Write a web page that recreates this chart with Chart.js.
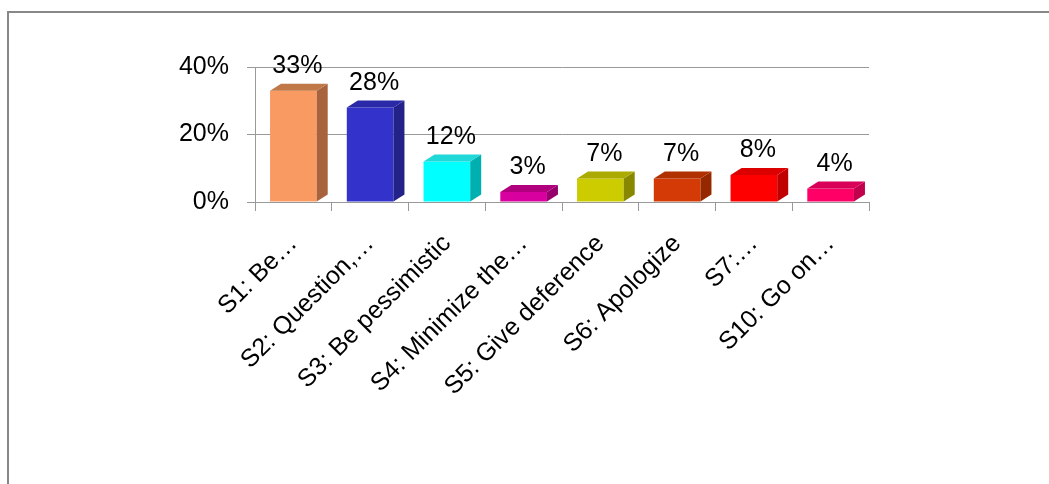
<!DOCTYPE html>
<html lang="en">
<head>
    <meta charset="UTF-8">
    <title>Strategies</title>
    <style>
        html, body { margin: 0; padding: 0; background: #fff; }
        body { width: 1049px; height: 484px; position: relative; overflow: hidden; font-family: "Liberation Sans", Arial, sans-serif; }
        .frame { position: absolute; left: 7px; top: 11px; width: 1040px; height: 480px; border-top: 2px solid #888; border-left: 2px solid #888; }
        .chart-box { position: absolute; left: 0; top: 0; width: 1049px; height: 484px; }
    </style>
</head>
<body>
    <div class="frame"></div>
    <div class="chart-box">
        <canvas id="stratChart" width="1049" height="484"></canvas>
    </div>

    <script src="https://cdn.jsdelivr.net/npm/chart.js@4.4.1/dist/chart.umd.min.js"></script>
    <script>
        // data
        const categories = ['S1: Be…', 'S2: Question,…', 'S3: Be pessimistic', 'S4: Minimize the…',
                            'S5: Give deference', 'S6: Apologize', 'S7:…', 'S10: Go on…'];
        const shares = [33, 28, 12, 3, 7, 7, 8, 4];
        const yTicks = [0, 20, 40];

        const frontColors = ['#F99A62', '#3333CC', '#00FFFF', '#D8009E', '#CCCC00', '#D43A06', '#FF0000', '#FF0066'];
        const sideColors  = ['#A8623C', '#222288', '#00AFAF', '#96006C', '#888800', '#962800', '#C00000', '#C0004C'];
        const topColors   = ['#C07848', '#2A2AA8', '#20D8D8', '#B0007E', '#AAAA00', '#B03000', '#DD0000', '#D80058'];

        const DEPTH_X = 11, DEPTH_Y = 7;
        const FONT = '"Liberation Sans", Arial, sans-serif';

        // fake 3d: side + top faces, from the bar elements the library placed
        const boxes = {
            id: 'boxes',
            afterDatasetsDraw(chart) {
                const ctx = chart.ctx;
                const meta = chart.getDatasetMeta(0);
                ctx.save();
                meta.data.forEach((bar, i) => {
                    const l = bar.x - bar.width / 2, r = bar.x + bar.width / 2;
                    const t = bar.y, b = bar.base;
                    // side
                    ctx.fillStyle = sideColors[i];
                    ctx.beginPath();
                    ctx.moveTo(r, b);
                    ctx.lineTo(r + DEPTH_X, b - DEPTH_Y);
                    ctx.lineTo(r + DEPTH_X, t - DEPTH_Y);
                    ctx.lineTo(r, t);
                    ctx.closePath();
                    ctx.fill();
                    // top
                    ctx.fillStyle = topColors[i];
                    ctx.beginPath();
                    ctx.moveTo(l, t);
                    ctx.lineTo(l + DEPTH_X, t - DEPTH_Y);
                    ctx.lineTo(r + DEPTH_X, t - DEPTH_Y);
                    ctx.lineTo(r, t);
                    ctx.closePath();
                    ctx.fill();
                });
                // value labels
                ctx.fillStyle = '#000';
                ctx.font = '25px ' + FONT;
                ctx.textAlign = 'center';
                ctx.textBaseline = 'bottom';
                meta.data.forEach((bar, i) => {
                    ctx.fillText(shares[i] + '%', bar.x + 4, bar.y - DEPTH_Y - 5);
                });
                ctx.restore();
            }
        };

        const ctx = document.getElementById('stratChart').getContext('2d');
        const chart = new Chart(ctx, {
            type: 'bar',
            data: {
                labels: categories,
                datasets: [{
                    data: shares,
                    backgroundColor: frontColors,
                    borderWidth: 0,
                    categoryPercentage: 0.8,
                    barPercentage: 0.76
                }]
            },
            options: {
                responsive: false,
                animation: false,
                layout: { padding: { top: 67, right: 180, left: 0, bottom: 0 } },
                plugins: {
                    legend: { display: false },
                    tooltip: { enabled: false }
                },
                scales: {
                    x: {
                        afterFit(scale) { scale.height = 282; },
                        grid: { drawOnChartArea: false, color: '#999', tickLength: 9 },
                        border: { color: '#999' },
                        ticks: {
                            color: '#000',
                            font: { size: 25, family: FONT },
                            minRotation: 45,
                            maxRotation: 45,
                            autoSkip: false,
                            padding: 18
                        }
                    },
                    y: {
                        min: 0,
                        max: 40,
                        afterFit(scale) { scale.width = 255; },
                        afterBuildTicks(scale) { scale.ticks = yTicks.map(v => ({ value: v })); },
                        grid: { color: '#999', tickLength: 8 },
                        border: { color: '#999' },
                        ticks: {
                            color: '#000',
                            font: { size: 25, family: FONT },
                            padding: 18,
                            callback: v => v + '%'
                        }
                    }
                }
            },
            plugins: [boxes]
        });
    </script>
</body>
</html>
